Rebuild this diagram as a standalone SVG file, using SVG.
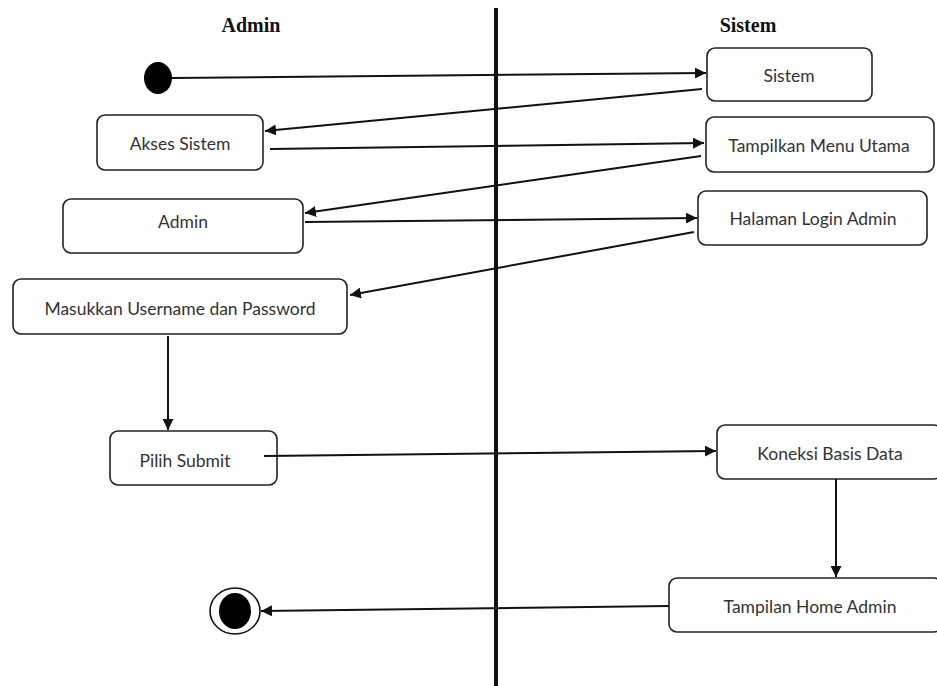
<svg xmlns="http://www.w3.org/2000/svg" width="937" height="686" viewBox="0 0 937 686">
<style>
.node rect{fill:#fff;stroke:#222;stroke-width:1.6}
.node text{font-family:Lato,"Open Sans","Liberation Sans",sans-serif;font-size:17.5px;fill:#333;text-anchor:middle;dominant-baseline:central}
.hdr{font-family:"Liberation Serif",serif;font-weight:bold;font-size:20px;fill:#111;text-anchor:middle}
#connectors line{stroke:#111;stroke-width:2;fill:none;marker-end:url(#arr)}
</style>
<defs>
<marker id="arr" viewBox="0 0 10 10" refX="10" refY="5" markerWidth="5.5" markerHeight="5.5" markerUnits="strokeWidth" orient="auto">
<path d="M0,0 L10,5 L0,10 z" fill="#111"/>
</marker>
</defs>
<rect width="937" height="686" fill="#fff"/>
<text class="hdr" x="251" y="32">Admin</text>
<text class="hdr" x="748" y="32">Sistem</text>
<line x1="496" y1="8" x2="496" y2="686" stroke="#111" stroke-width="4"/>
<g id="start"><ellipse cx="158" cy="78" rx="14" ry="16" fill="#000"/></g>
<g id="end"><ellipse cx="235" cy="611" rx="25" ry="23" fill="#fff" stroke="#111" stroke-width="1.6"/><ellipse cx="235" cy="611" rx="16" ry="18" fill="#000"/></g>
<g id="n-sistem" class="node"><rect x="707" y="48" width="165" height="53" rx="8"/><text x="789" y="75">Sistem</text></g>
<g id="n-akses" class="node"><rect x="97" y="115" width="166" height="55" rx="8"/><text x="180" y="143">Akses Sistem</text></g>
<g id="n-menu" class="node"><rect x="706" y="117" width="228" height="55" rx="8"/><text x="819" y="145">Tampilkan Menu Utama</text></g>
<g id="n-admin" class="node"><rect x="63" y="199" width="240" height="54" rx="8"/><text x="183" y="221">Admin</text></g>
<g id="n-login" class="node"><rect x="698" y="191" width="229" height="54" rx="8"/><text x="813" y="218">Halaman Login Admin</text></g>
<g id="n-masuk" class="node"><rect x="13" y="279" width="334" height="55" rx="8"/><text x="180" y="308">Masukkan Username dan Password</text></g>
<g id="n-submit" class="node"><rect x="110" y="431" width="167" height="54" rx="8"/><text x="185" y="460">Pilih Submit</text></g>
<g id="n-koneksi" class="node"><rect x="717" y="425" width="225" height="54" rx="8"/><text x="830" y="453">Koneksi Basis Data</text></g>
<g id="n-home" class="node"><rect x="669" y="578" width="273" height="54" rx="8"/><text x="810" y="606">Tampilan Home Admin</text></g>
<g id="connectors">
<line x1="172" y1="78" x2="706" y2="73"/>
<line x1="702" y1="89" x2="265" y2="131"/>
<line x1="270" y1="149" x2="704" y2="143"/>
<line x1="701" y1="156" x2="305" y2="213"/>
<line x1="305" y1="222" x2="697" y2="218"/>
<line x1="694" y1="232" x2="350" y2="295"/>
<line x1="168" y1="336" x2="168" y2="430"/>
<line x1="264" y1="456" x2="716" y2="451"/>
<line x1="836" y1="479" x2="836" y2="577"/>
<line x1="669" y1="606" x2="261" y2="611"/>
</g>
</svg>
